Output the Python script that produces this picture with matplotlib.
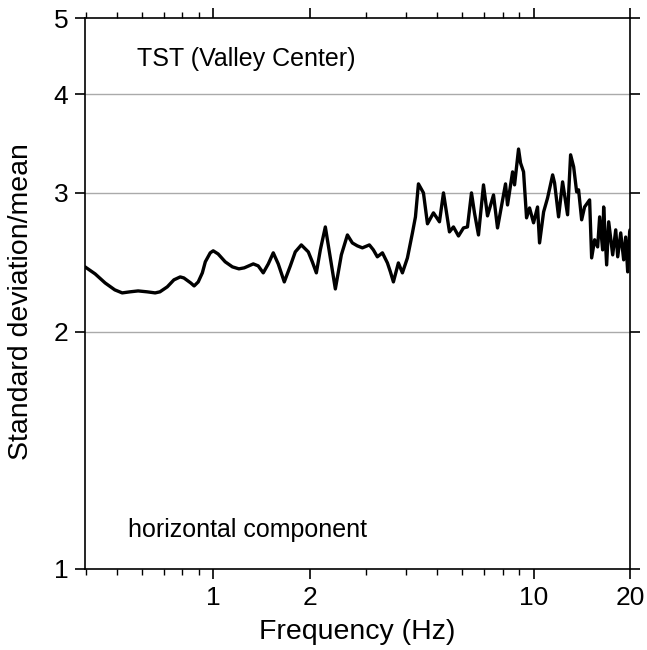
import numpy as np
import matplotlib
matplotlib.use("Agg")
from matplotlib import pyplot as plt
from matplotlib.ticker import FixedLocator, NullFormatter

# frequency (Hz) and standard deviation / mean
freq = [0.398, 0.428, 0.460, 0.493, 0.520, 0.550, 0.583, 0.622, 0.659, 0.682,
        0.719, 0.754, 0.789, 0.810, 0.851, 0.872, 0.898, 0.925, 0.945, 0.979,
        1.0, 1.036, 1.090, 1.148, 1.203, 1.250, 1.334, 1.382, 1.433, 1.486,
        1.540, 1.596, 1.667, 1.741, 1.804, 1.884, 1.981, 2.039, 2.099, 2.160,
        2.239, 2.321, 2.406, 2.512, 2.624, 2.719, 2.818, 2.922, 3.073, 3.162,
        3.254, 3.375, 3.498, 3.574, 3.652, 3.785, 3.896, 4.039, 4.187, 4.279,
        4.372, 4.532, 4.665, 4.870, 5.085, 5.234, 5.464, 5.623, 5.830, 6.043,
        6.219, 6.401, 6.540, 6.731, 6.978, 7.182, 7.499, 7.718, 8.175, 8.294,
        8.600, 8.723, 8.977, 9.107, 9.306, 9.509, 9.716, 10.0, 10.29, 10.44,
        10.75, 11.06, 11.47, 11.63, 11.97, 12.32, 12.77, 13.05, 13.34, 13.63,
        13.82, 14.13, 14.43, 14.96, 15.18, 15.51, 15.85, 16.08, 16.43, 16.55,
        16.91, 17.16, 17.66, 18.05, 18.31, 18.71, 19.11, 19.39, 19.67, 19.95,
        20.0]
ratio = [2.417, 2.368, 2.306, 2.260, 2.240, 2.247, 2.253, 2.247, 2.240, 2.247,
         2.280, 2.327, 2.347, 2.340, 2.306, 2.286, 2.313, 2.375, 2.453, 2.518,
         2.533, 2.510, 2.453, 2.417, 2.403, 2.410, 2.438, 2.424, 2.375, 2.438,
         2.518, 2.438, 2.313, 2.424, 2.525, 2.577, 2.525, 2.453, 2.375, 2.540,
         2.716, 2.481, 2.266, 2.503, 2.653, 2.592, 2.570, 2.555, 2.577, 2.540,
         2.489, 2.518, 2.445, 2.382, 2.313, 2.445, 2.375, 2.481, 2.669, 2.797,
         3.080, 3.000, 2.741, 2.830, 2.757, 3.000, 2.677, 2.716, 2.645, 2.708,
         2.716, 3.000, 2.830, 2.653, 3.071, 2.805, 2.982, 2.708, 3.080, 2.896,
         3.190, 3.071, 3.410, 3.274, 3.190, 2.789, 2.871, 2.749, 2.879, 2.592,
         2.838, 2.956, 3.162, 3.089, 2.797, 3.098, 2.814, 3.353, 3.237, 3.009,
         3.027, 2.773, 2.879, 2.939, 2.481, 2.616, 2.562, 2.797, 2.540, 2.879,
         2.431, 2.757, 2.503, 2.693, 2.489, 2.669, 2.467, 2.637, 2.382, 2.677,
         2.693]

xticks = [1, 2, 10, 20]
xtick_labels = ["1", "2", "10", "20"]
xminor = [0.4, 0.5, 0.6, 0.7, 0.8, 0.9, 3, 4, 5, 6, 7, 8, 9]
yticks = [1, 2, 3, 4, 5]
grid_levels = [2, 3, 4]

plt.rcParams['font.family'] = ['Liberation Sans', 'DejaVu Sans']

fig = plt.figure(figsize=(6.47, 6.50), dpi=100)
ax = fig.add_axes([85 / 647, 1 - 569 / 650, 545 / 647, 551 / 650])

for g in grid_levels:
    ax.axhline(g, color="#aaaaaa", lw=1.0, zorder=1)

ax.plot(freq, ratio, color="black", lw=2.4, zorder=3,
        solid_joinstyle="round", solid_capstyle="round")

ax.set_xscale("log")
ax.set_yscale("log")
ax.set_xlim(0.398, 20)
ax.set_ylim(1, 5)

ax.xaxis.set_major_locator(FixedLocator(xticks))
ax.set_xticklabels(xtick_labels)
ax.xaxis.set_minor_locator(FixedLocator(xminor))
ax.xaxis.set_minor_formatter(NullFormatter())
ax.yaxis.set_major_locator(FixedLocator(yticks))
ax.set_yticklabels([str(v) for v in yticks])
ax.yaxis.set_minor_locator(FixedLocator([]))

ax.tick_params(axis="both", which="major", direction="out", length=7, width=1.2,
               labelsize=19, top=True, right=True, pad=5)
ax.tick_params(axis="x", which="minor", direction="out", length=4.5, width=1.0,
               top=True)
for s in ax.spines.values():
    s.set_linewidth(1.2)

ax.set_xlabel("Frequency (Hz)", fontsize=20.5, labelpad=7)
ax.set_ylabel("Standard deviation/mean", fontsize=20.5)
ax.yaxis.set_label_coords(-0.094, 0.486)

ax.text(0.096, 0.926, "TST (Valley Center)", transform=ax.transAxes,
        fontsize=18, ha="left", va="center")
ax.text(0.079, 0.071, "horizontal component", transform=ax.transAxes,
        fontsize=18, ha="left", va="center")

fig.savefig("out.png", dpi=100)
